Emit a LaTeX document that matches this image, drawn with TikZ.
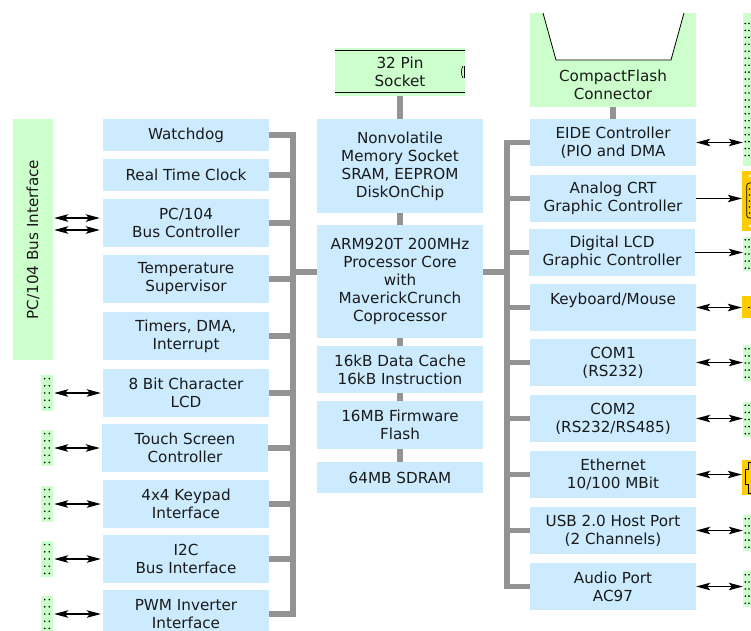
\documentclass[tikz,border=0pt]{standalone}
\usepackage{fontspec}
\setmainfont{DejaVu Sans}
\usetikzlibrary{arrows.meta,backgrounds}
\definecolor{boxblue}{HTML}{CCEBFF}
\definecolor{boxgreen}{HTML}{CCFFCC}
\definecolor{busgray}{HTML}{939393}
\definecolor{connorange}{HTML}{FFCC00}
\definecolor{txtdark}{HTML}{1A1A1A}
\newcommand{\diagfont}{\fontsize{15.2}{18}\selectfont}
\begin{document}
\begin{tikzpicture}[x=1pt,y=-1pt,
  blk/.style={fill=boxblue, draw=none, inner sep=0pt, minimum width=166pt, align=center, text=txtdark, font=\diagfont},
  grn/.style={fill=boxgreen, draw=none, inner sep=0pt, align=center, text=txtdark, font=\diagfont},
  hdr/.style={fill=boxgreen, draw=none, inner sep=0pt, minimum width=12pt, minimum height=36pt},
  rhdr/.style={fill=boxgreen, draw=none, inner sep=0pt, minimum width=14pt},
  org/.style={fill=connorange, draw=none, inner sep=0pt, minimum width=14pt},
  bus/.style={draw=busgray, line width=5.5pt},
  >={Stealth[length=14pt,width=7.5pt,inset=3pt]},
  dbl/.style={draw=black, line width=1.1pt, <->},
  sgl/.style={draw=black, line width=1.1pt, ->},
  pin/.style={fill=black}]
\useasboundingbox (0,0) rectangle (751,630);
\clip (0,0) rectangle (751,630);

% PC/104 bus interface
\node[grn, rotate=90, minimum width=241pt, minimum height=40pt] (pcif) at (33,239.5) {PC/104 Bus Interface};

% left column
\node[blk, minimum height=32pt] (wd) at (186,135) {Watchdog};
\node[blk, minimum height=32pt] (rtc) at (186,175) {Real Time Clock};
\node[blk, minimum height=48pt] (pcbc) at (186,223) {PC/104\\Bus Controller};
\node[blk, minimum height=48pt] (temp) at (186,279) {Temperature\\Supervisor};
\node[blk, minimum height=48pt] (tim) at (186,336) {Timers, DMA,\\Interrupt};
\node[blk, minimum height=48pt] (clcd) at (186,393) {8 Bit Character\\LCD};
\node[blk, minimum height=48pt] (touch) at (185,448) {Touch Screen\\Controller};
\node[blk, minimum height=48pt] (kp) at (186,504) {4x4 Keypad\\Interface};
\node[blk, minimum height=48pt] (i2c) at (186,559) {I2C\\Bus Interface};
\node[blk, minimum height=48pt] (pwm) at (186,614) {PWM Inverter\\Interface};

% middle column
\node[grn, minimum width=130pt, minimum height=48pt] (sock) at (400,72) {32 Pin\\Socket};
\node[blk, minimum height=94pt] (nv) at (400,166) {Nonvolatile\\Memory Socket\\SRAM, EEPROM\\DiskOnChip};
\node[blk, minimum height=113pt] (arm) at (400,281.5) {ARM920T 200MHz\\Processor Core\\with\\MaverickCrunch\\Coprocessor};
\node[blk, minimum height=47pt] (cache) at (400,369.5) {16kB Data Cache\\16kB Instruction};
\node[blk, minimum height=48pt] (flash) at (400,425) {16MB Firmware\\Flash};
\node[blk, minimum height=31pt] (sdram) at (400,477.5) {64MB SDRAM};

% right column
\node[grn, minimum width=166pt, minimum height=94pt] (cf) at (613,60) {};
\node[text=txtdark, font=\diagfont, align=center, inner sep=0pt] (cftxt) at (613,84.5) {CompactFlash\\Connector};
\node[blk, minimum height=47pt] (eide) at (613,142.5) {EIDE Controller\\(PIO and DMA};
\node[blk, minimum height=47pt] (crt) at (613,198.5) {Analog CRT\\Graphic Controller};
\node[blk, minimum height=47pt] (dlcd) at (612,252.5) {Digital LCD\\Graphic Controller};
\node[blk, minimum height=47pt] (kbd) at (613,307.5) {Keyboard/Mouse\\\mbox{}};
\node[blk, minimum height=47pt] (com1) at (613,362.5) {COM1\\(RS232)};
\node[blk, minimum height=47pt] (com2) at (613,418.5) {COM2\\(RS232/RS485)};
\node[blk, minimum height=47pt] (eth) at (613,474.5) {Ethernet\\10/100 MBit};
\node[blk, minimum height=47pt] (usb) at (613,530.5) {USB 2.0 Host Port\\(2 Channels)};
\node[blk, minimum height=47pt] (aud) at (613,586.5) {Audio Port\\AC97};

% left pin headers
\node[hdr] (hl1) at (47,393) {};
\node[hdr] (hl2) at (47,448) {};
\node[hdr] (hl3) at (47,504) {};
\node[hdr] (hl4) at (47,559) {};
\node[hdr] (hl5) at (47,614) {};
\foreach \h in {hl1,hl2,hl3,hl4,hl5}
  \foreach \k in {-2,...,2} {
    \fill[pin] (\h.center) ++(-2.3,\k*7.2) circle[radius=0.9];
    \fill[pin] (\h.center) ++(2.3,\k*7.2) circle[radius=0.9];
  }

% right pin headers
\node[rhdr, minimum height=153pt] (hbig) at (750,89.5) {};
\node[rhdr, minimum height=34pt] (hlcd) at (750,254) {};
\node[rhdr, minimum height=36pt] (hc1) at (750,363) {};
\node[rhdr, minimum height=35pt] (hc2) at (750,419.5) {};
\node[rhdr, minimum height=36pt] (husb) at (750,533) {};
\node[rhdr, minimum height=36pt] (haud) at (750,589) {};
\foreach \k in {0,...,19} {
  \fill[pin] (hbig.center) ++(-4.7,{(\k-9.5)*6.95}) circle[radius=0.9];
  \fill[pin] (hbig.center) ++(-1,{(\k-9.5)*6.95}) circle[radius=0.9];
}
\foreach \h in {hlcd,hc1,hc2,husb,haud}
  \foreach \k in {-2,...,2} {
    \fill[pin] (\h.center) ++(-4.7,\k*7.1) circle[radius=0.9];
    \fill[pin] (\h.center) ++(-1,\k*7.1) circle[radius=0.9];
  }

% orange connectors
\node[org, minimum height=60pt] (vga) at (749,201) {};
\node[org, minimum height=22pt] (ps2) at (749,307) {};
\node[org, minimum height=35pt] (rj) at (749,477.5) {};
\draw[line width=0.7pt, rounded corners=2.5pt] (754,183) -- (746.8,183) -- (746.8,218) -- (754,218);
\foreach \k in {0,...,4} \fill[pin] (749.5,{189+\k*6}) circle[radius=0.8];
\fill[white!80!connorange] (750,176) circle[radius=1.6];
\fill[white!80!connorange] (750,226) circle[radius=1.6];
\draw[line width=0.8pt] (747.5,307) -- (750,307);
\draw[line width=0.7pt] (753,462) -- (748.5,462) -- (748.5,469) -- (745,469) -- (745,484) -- (748.5,484) -- (748.5,493) -- (753,493);

% socket details
\draw[line width=0.9pt] ([yshift=-3pt]sock.north west) -- ([yshift=-3pt]sock.north east);
\draw[line width=0.9pt] ([yshift=4pt]sock.south west) -- ([yshift=4pt]sock.south east);
\draw[line width=0.7pt] (463,66) .. controls (461,69) and (461,75) .. (463,78);
\draw[line width=1.4pt] (464.3,66) -- (464.3,78);

% CompactFlash slot
\filldraw[fill=white, draw=black, line width=0.8pt] (543,13) -- (556,60) -- (671,60) -- (684,13);

% bus coordinates
\coordinate (lbT) at (293,132.25);
\coordinate (lbB) at (293,616.75);
\coordinate (lbM) at (293,272);
\coordinate (rbT) at (507,139.75);
\coordinate (rbB) at (507,589.25);
\coordinate (rbM) at (507,272);

\begin{scope}[on background layer]
  \draw[bus] (lbT) -- (lbB);
  \foreach \n in {wd,rtc,pcbc,temp,tim,clcd,touch,kp,i2c,pwm}
    \draw[bus] (\n.east) -- (\n.east -| lbT);
  \draw[bus] (rbT) -- (rbB);
  \foreach \n in {eide,crt,dlcd,kbd,com1,com2,eth,usb,aud}
    \draw[bus] (\n.west) -- (\n.west -| rbT);
  \draw[bus] (arm.west |- lbM) -- (lbM);
  \draw[bus] (arm.east |- rbM) -- (rbM);
  \draw[bus] (nv.north |- sock.south) -- (nv.north);
  \draw[bus] (nv.south) -- (arm.north);
  \draw[bus] (arm.south) -- (cache.north);
  \draw[bus] (cache.south) -- (flash.north);
  \draw[bus] (flash.south) -- (sdram.north);
  \draw[bus] (cf.south) -- (eide.north);
\end{scope}

% arrows left
\coordinate (pa) at ([yshift=5pt]pcbc.west);
\coordinate (pb) at ([yshift=-7pt]pcbc.west);
\draw[dbl, shorten <=1pt, shorten >=3pt] (pa -| pcif.south) -- (pa);
\draw[dbl, shorten <=1pt, shorten >=3pt] (pb -| pcif.south) -- (pb);
\draw[dbl, shorten <=1pt, shorten >=2pt] (hl1.east) -- (hl1.east -| clcd.west);
\draw[dbl, shorten <=1pt, shorten >=2pt] (hl2.east) -- (hl2.east -| touch.west);
\draw[dbl, shorten <=1pt, shorten >=2pt] (hl3.east) -- (hl3.east -| kp.west);
\draw[dbl, shorten <=1pt, shorten >=2pt] (hl4.east) -- (hl4.east -| i2c.west);
\draw[dbl, shorten <=1pt, shorten >=2pt] (hl5.east) -- (hl5.east -| pwm.west);

% arrows right
\draw[dbl] (eide.east) -- (eide.east -| hbig.west);
\draw[sgl] (crt.east) -- (crt.east -| vga.west);
\draw[sgl] (dlcd.east) -- (dlcd.east -| hlcd.west);
\draw[dbl] (kbd.east) -- (kbd.east -| ps2.west);
\draw[dbl] (com1.east) -- (com1.east -| hc1.west);
\draw[dbl] (com2.east) -- (com2.east -| hc2.west);
\draw[dbl] (eth.east) -- (eth.east -| rj.west);
\draw[dbl] (usb.east) -- (usb.east -| husb.west);
\draw[dbl] (aud.east) -- (aud.east -| haud.west);
\end{tikzpicture}
\end{document}
